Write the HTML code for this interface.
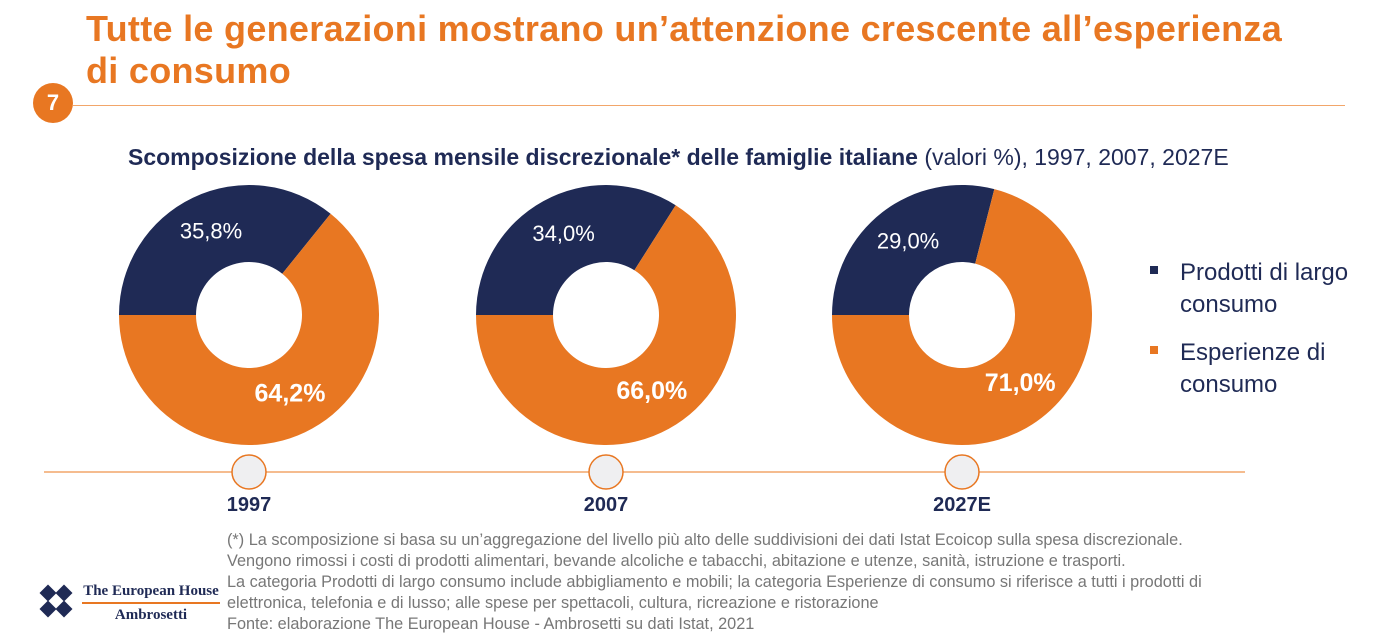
<!DOCTYPE html>
<html><head><meta charset="utf-8"><style>
body{margin:0;width:1392px;height:642px;background:#fff;overflow:hidden;font-family:"Liberation Sans",sans-serif;position:relative}
.abs{position:absolute;white-space:nowrap}
</style></head><body>
<div class="abs" style="left:86px;top:8px;font-size:36px;letter-spacing:0.3px;line-height:42px;color:#E87722;font-weight:bold">Tutte le generazioni mostrano un’attenzione crescente all’esperienza<br>di consumo</div>
<div class="abs" style="left:33px;top:83px;width:40px;height:40px;border-radius:50%;background:#E87722;color:#fff;font-weight:bold;font-size:22px;text-align:center;line-height:40px">7</div>
<div class="abs" style="left:73px;top:105px;width:1272px;height:1px;background:#F2A66A"></div>
<div class="abs" style="left:128px;top:144px;font-size:23px;color:#1f2a55"><b>Scomposizione della spesa mensile discrezionale* delle famiglie italiane</b> (valori %), 1997, 2007, 2027E</div>
<svg id="chart" class="abs" style="left:0;top:0" width="1392" height="642"></svg>
<div class="abs" style="left:1150px;top:257px;font-size:24px;line-height:32px;color:#1f2a55"><span style="position:absolute;left:0;top:9px;width:8px;height:8px;background:#1f2a55"></span><span style="position:absolute;left:30px">Prodotti di largo<br>consumo</span></div>
<div class="abs" style="left:1150px;top:337px;font-size:24px;line-height:32px;color:#1f2a55"><span style="position:absolute;left:0;top:9px;width:8px;height:8px;background:#E87722"></span><span style="position:absolute;left:30px">Esperienze di<br>consumo</span></div>
<div class="abs" style="left:227px;top:530px;font-size:16.3px;line-height:21px;color:#777">(*) La scomposizione si basa su un’aggregazione del livello più alto delle suddivisioni dei dati Istat Ecoicop sulla spesa discrezionale.<br>Vengono rimossi i costi di prodotti alimentari, bevande alcoliche e tabacchi, abitazione e utenze, sanità, istruzione e trasporti.<br>La categoria Prodotti di largo consumo include abbigliamento e mobili; la categoria Esperienze di consumo si riferisce a tutti i prodotti di<br>elettronica, telefonia e di lusso; alle spese per spettacoli, cultura, ricreazione e ristorazione<br>Fonte: elaborazione The European House - Ambrosetti su dati Istat, 2021</div>
<div class="abs" style="left:38px;top:583px;width:40px;height:36px">
<svg width="40" height="36"><g fill="#1f2a55"><rect x="4" y="4" width="12" height="12" transform="rotate(45 10 10)"/><rect x="4" y="20" width="12" height="12" transform="rotate(45 10 26)"/><rect x="20" y="4" width="12" height="12" transform="rotate(45 26 10)"/><rect x="20" y="20" width="12" height="12" transform="rotate(45 26 26)"/></g></svg></div>
<div class="abs" style="left:82px;top:582px;font-family:'Liberation Serif',serif;font-weight:bold;color:#1f2a55;font-size:15px;width:138px;text-align:center;line-height:18px">The European House<div style="height:2px;background:#E87722;margin:2px 0"></div>Ambrosetti</div>
<script>
const years=["1997","2007","2027E"];
const prodotti=[35.8,34.0,29.0];
const esperienze=[64.2,66.0,71.0];
const fmt=v=>v.toFixed(1).replace('.',',')+'%';
const svg=document.getElementById('chart');
const NS='http://www.w3.org/2000/svg';
const cx=[249,606,962], cy=315, R=130, r=53;
function pt(a,rad,c){return [c+rad*Math.sin(a),cy-rad*Math.cos(a)];}
function arc(c,a0,a1){const L=(a1-a0)>Math.PI?1:0;const p0=pt(a0,R,c),p1=pt(a1,R,c),q1=pt(a1,r,c),q0=pt(a0,r,c);
return `M${p0}L${p0}A${R},${R} 0 ${L} 1 ${p1}L${q1}A${r},${r} 0 ${L} 0 ${q0}Z`;}
const line=document.createElementNS(NS,'line');
line.setAttribute('x1',44);line.setAttribute('x2',1245);line.setAttribute('y1',472);line.setAttribute('y2',472);line.setAttribute('stroke','#F2A66A');line.setAttribute('stroke-width',1.5);


svg.appendChild(line);
years.forEach((y,i)=>{
 const c=cx[i];const tot=prodotti[i]+esperienze[i];
 const a0=-Math.PI/2, a1=a0+prodotti[i]/tot*2*Math.PI, a2=a0+2*Math.PI;
 const p=document.createElementNS(NS,'path');p.setAttribute('d',arc(c,a0,a1));p.setAttribute('fill','#1f2a55');
 
 
 svg.appendChild(p);
 const e=document.createElementNS(NS,'path');e.setAttribute('d',arc(c,a1,a2));e.setAttribute('fill','#E87722');
 
 
 svg.appendChild(e);
 const m1=(a0+a1)/2, m2=(a1+a2)/2;
 const l1=pt(m1,88,c), l2=pt(m2,95,c);
 const t1=document.createElementNS(NS,'text');t1.setAttribute('x',l1[0]);t1.setAttribute('y',l1[1]+3);t1.setAttribute('text-anchor','middle');t1.setAttribute('fill','#fff');t1.setAttribute('font-size','22');t1.textContent=fmt(prodotti[i]);
 
 
 svg.appendChild(t1);
 const t2=document.createElementNS(NS,'text');t2.setAttribute('x',l2[0]);t2.setAttribute('y',l2[1]+1);t2.setAttribute('text-anchor','middle');t2.setAttribute('fill','#fff');t2.setAttribute('font-size','25');t2.setAttribute('font-weight','bold');t2.textContent=fmt(esperienze[i]);
 
 
 svg.appendChild(t2);
 const ci=document.createElementNS(NS,'circle');ci.setAttribute('cx',c);ci.setAttribute('cy',472);ci.setAttribute('r',17);ci.setAttribute('fill','#efeff1');ci.setAttribute('stroke','#E87722');ci.setAttribute('stroke-width',1.5);
 
 
 svg.appendChild(ci);
 const yt=document.createElementNS(NS,'text');yt.setAttribute('x',c);yt.setAttribute('y',511);yt.setAttribute('text-anchor','middle');yt.setAttribute('fill','#1f2a55');yt.setAttribute('font-size','20');yt.setAttribute('font-weight','bold');yt.textContent=y;
 
 
 svg.appendChild(yt);
});
</script>
</body></html>
